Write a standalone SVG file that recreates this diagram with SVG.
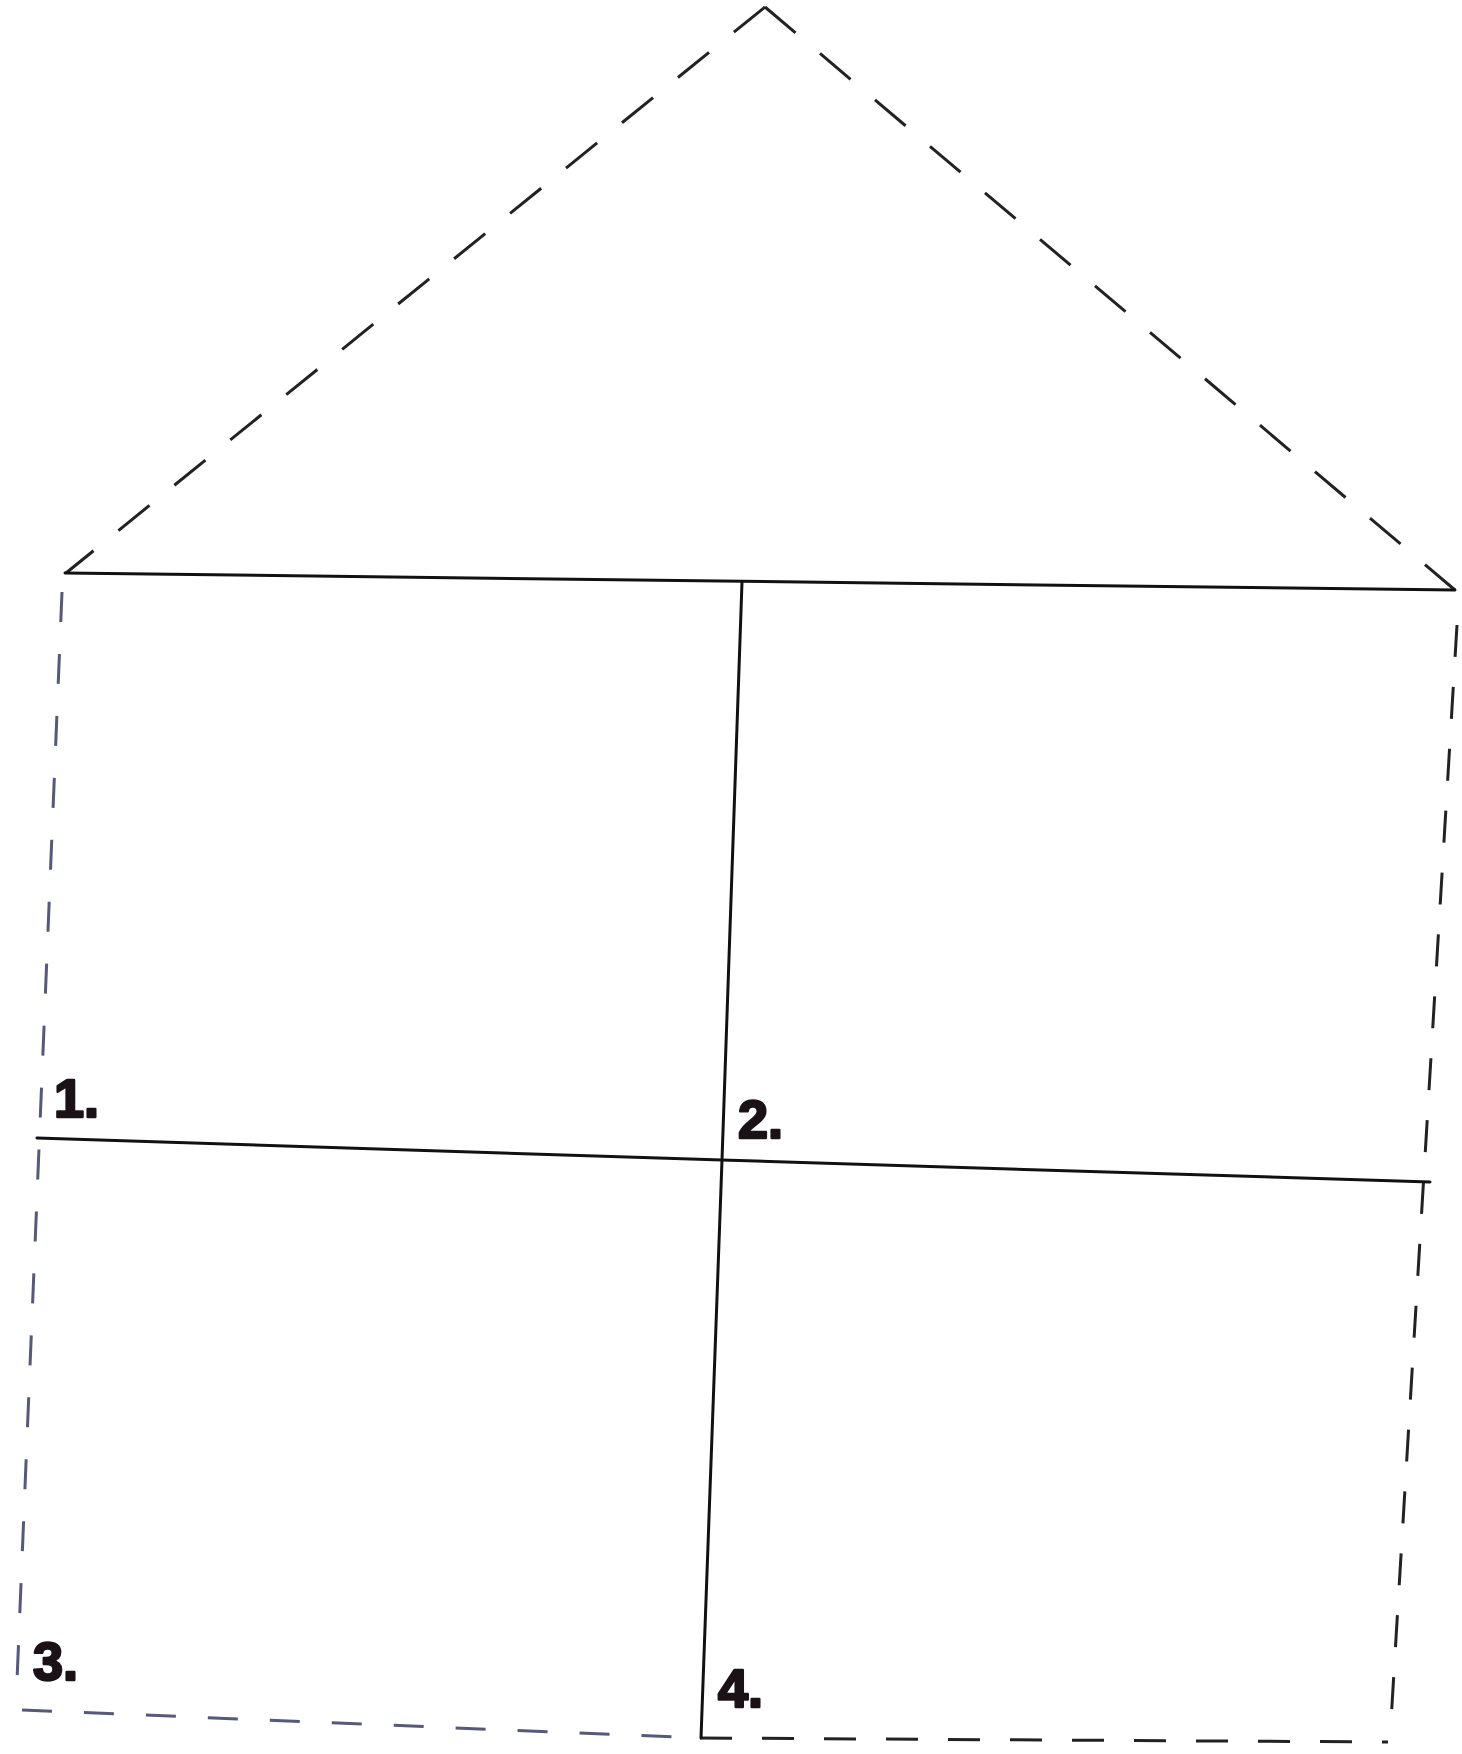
<svg xmlns="http://www.w3.org/2000/svg" width="1462" height="1754" viewBox="0 0 1462 1754">
<style>
.solid{stroke:#111;stroke-width:3;fill:none;stroke-linecap:round}
.dash{stroke:#222;stroke-width:3;fill:none;stroke-dasharray:40 32}
.dashS{stroke:#222;stroke-width:3;fill:none;stroke-dasharray:32 30}
.dashL{stroke:#55597a;stroke-width:3;fill:none;stroke-dasharray:30 32}
.lbl{font-family:"Liberation Sans",Arial,sans-serif;font-weight:bold;font-size:54px;fill:#1a1216;stroke:#1a1216;stroke-width:2.5;stroke-linejoin:round}
</style>
<rect width="1462" height="1754" fill="#fff"/>
<g id="roof">
<path class="dash" d="M765 7 L66 573"/>
<path class="dash" d="M765 7 L1455 590"/>
</g>
<g id="walls">
<path class="dashL" d="M62 592 L16 1705"/>
<path class="dashS" d="M1457 625 L1390 1738"/>
<path class="dashL" d="M22 1710 L700 1738"/>
<path class="dashS" d="M700 1738 L1388 1742"/>
</g>
<g id="grid">
<path class="solid" d="M65 573 L1455 590"/>
<path class="solid" d="M742 582 L722 1160 L701 1738"/>
<path class="solid" d="M37 1138 L722 1160 L1430 1182"/>
</g>
<g id="labels">
<text class="lbl" x="54" y="1117">1.</text>
<text class="lbl" x="738" y="1138">2.</text>
<text class="lbl" x="33" y="1680">3.</text>
<text class="lbl" x="718" y="1707">4.</text>
</g>
</svg>
